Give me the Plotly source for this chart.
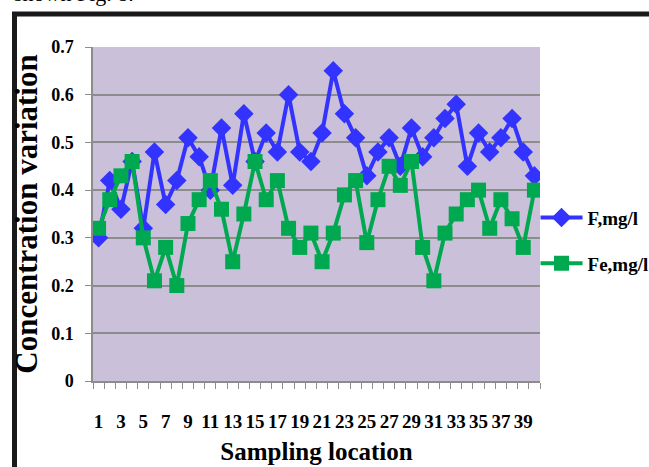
import plotly.graph_objects as go

locations = list(range(1, 41))
f_values = [0.30, 0.42, 0.36, 0.46, 0.32, 0.48, 0.37, 0.42, 0.51, 0.47,
            0.40, 0.53, 0.41, 0.56, 0.46, 0.52, 0.48, 0.60, 0.48, 0.46,
            0.52, 0.65, 0.56, 0.51, 0.43, 0.48, 0.51, 0.45, 0.53, 0.47,
            0.51, 0.55, 0.58, 0.45, 0.52, 0.48, 0.51, 0.55, 0.48, 0.43]
fe_values = [0.32, 0.38, 0.43, 0.46, 0.30, 0.21, 0.28, 0.20, 0.33, 0.38,
             0.42, 0.36, 0.25, 0.35, 0.46, 0.38, 0.42, 0.32, 0.28, 0.31,
             0.25, 0.31, 0.39, 0.42, 0.29, 0.38, 0.45, 0.41, 0.46, 0.28,
             0.21, 0.31, 0.35, 0.38, 0.40, 0.32, 0.38, 0.34, 0.28, 0.40]
x_tick_labels = [str(i) for i in range(1, 40, 2)]
y_ticks = [0, 0.1, 0.2, 0.3, 0.4, 0.5, 0.6, 0.7]
y_tick_labels = ["0", "0.1", "0.2", "0.3", "0.4", "0.5", "0.6", "0.7"]

SERIF = "Liberation Serif, Times New Roman, serif"
GRID = "#8c8c8c"

fig = go.Figure()
fig.add_trace(go.Scatter(
    x=locations, y=f_values, name="<b>F,mg/l</b>", mode="lines+markers",
    line=dict(color="#3333FF", width=4),
    marker=dict(symbol="diamond", size=15, color="#3333FF"),
    legendgroup="a"))
fig.add_trace(go.Scatter(
    x=locations, y=fe_values, name="<b>Fe,mg/l</b>", mode="lines+markers",
    line=dict(color="#00A850", width=4),
    marker=dict(symbol="square", size=15, color="#00A850"),
    legendgroup="b"))

# page frame and cut caption
fig.add_shape(type="rect", xref="paper", yref="paper",
              x0=(14.5 - 93) / 447, x1=(680 - 93) / 447,
              y0=(381 - 500) / 334, y1=(381 - 14) / 334,
              line=dict(color="#1a1a1a", width=5), fillcolor="rgba(0,0,0,0)",
              layer="above")
fig.add_annotation(text="shown Fig. 8.", xref="paper", yref="paper",
                   x=(12 - 93) / 447, y=(381 - 8) / 334,
                   xanchor="left", yanchor="bottom", showarrow=False,
                   font=dict(family=SERIF, size=22, color="black"))

fig.update_layout(
    width=649, height=467,
    margin=dict(l=93, r=109, t=47, b=86, autoexpand=False),
    paper_bgcolor="white",
    plot_bgcolor="#CBC0DA",
    showlegend=True,
    legend=dict(x=0.99, y=0.42, xanchor="left", yanchor="middle",
                font=dict(family=SERIF, size=19, color="black"),
                bgcolor="rgba(0,0,0,0)", traceorder="grouped",
                tracegroupgap=18, itemwidth=42),
    xaxis=dict(
        range=[0.5, 40.5], tickmode="array", tickvals=list(range(1, 40, 2)),
        ticktext=["<b>%s</b>" % t for t in x_tick_labels],
        ticks="", showgrid=False, zeroline=False,
        showline=True, linecolor=GRID, linewidth=1.5,
        tickfont=dict(family=SERIF, size=19, color="black"),
        ticklabelstandoff=22,
        minor=dict(tickmode="linear", tick0=0.5, dtick=1, ticks="outside",
                   ticklen=6, tickcolor=GRID, tickwidth=1, showgrid=False),
        title=dict(text="<b>Sampling location</b>", standoff=12,
                   font=dict(family=SERIF, size=25, color="black")),
    ),
    yaxis=dict(
        range=[0, 0.7], tickmode="array", tickvals=y_ticks,
        ticktext=["<b>%s</b>" % t for t in y_tick_labels],
        ticks="outside", ticklen=6, tickcolor=GRID,
        showgrid=True, gridcolor=GRID, gridwidth=1.5, zeroline=False,
        showline=True, linecolor=GRID, linewidth=1.5,
        tickfont=dict(family=SERIF, size=18, color="black"),
        ticklabelstandoff=8,
        title=dict(text="<b>Concentration variation</b>", standoff=4,
                   font=dict(family=SERIF, size=31, color="black")),
    ),
)

fig.write_html("out.html")
